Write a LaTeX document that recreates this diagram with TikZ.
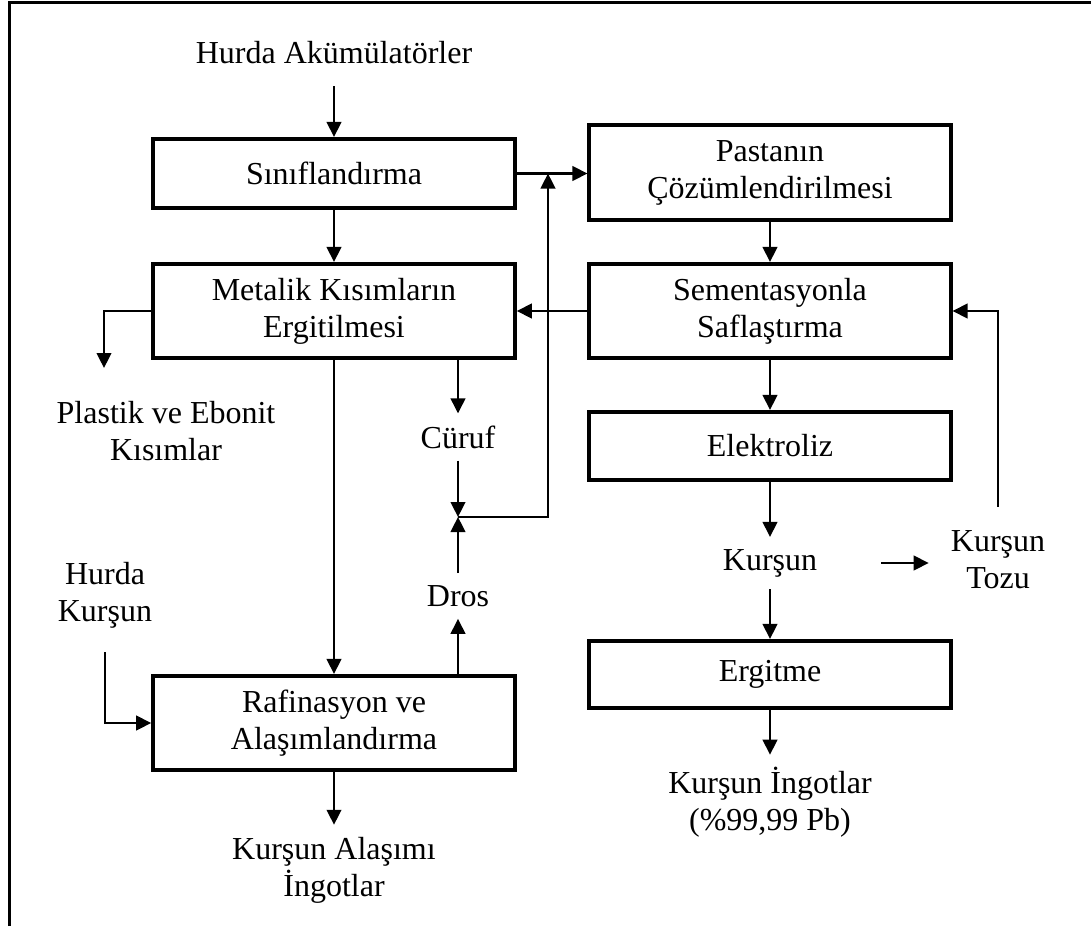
\documentclass[tikz,border=0pt]{standalone}
\usepackage{fontspec}
\setmainfont{Liberation Serif}
\usetikzlibrary{arrows.meta}
\begin{document}
\begin{tikzpicture}[x=1pt,y=-1pt,
  every node/.style={font=\fontsize{32}{37}\selectfont, align=center},
  proc/.style={draw, line width=3.6pt, inner sep=0pt},
  lbl/.style={fill=white, inner xsep=10pt, inner ysep=12pt},
  flow/.style={line width=2.6pt, -{Triangle[length=15pt,width=14.5pt]}}]
\useasboundingbox (0,0) rectangle (1091,926);

% page frame (left and top edges)
\draw[line width=3pt] (9,926) -- (9,2.5) -- (1091,2.5);

% process boxes, left column
\node[proc, minimum width=362pt, minimum height=69.5pt] (sinif) at (334,173.5) {Sınıflandırma};
\node[proc, minimum width=362pt, minimum height=94.5pt] (metal) at (334,311) {Metalik Kısımların\\Ergitilmesi};
\node[proc, minimum width=362pt, minimum height=94.5pt] (raf) at (334,723) {Rafinasyon ve\\Alaşımlandırma};

% process boxes, right column
\node[proc, minimum width=361.5pt, minimum height=95.5pt] (pasta) at (770,172.5) {Pastanın\\Çözümlendirilmesi};
\node[proc, minimum width=361.5pt, minimum height=94.5pt] (sement) at (770,311) {Sementasyonla\\Saflaştırma};
\node[proc, minimum width=361.5pt, minimum height=68.5pt] (elek) at (770,446) {Elektroliz};
\node[proc, minimum width=361.5pt, minimum height=67.5pt] (ergit) at (770,674.5) {Ergitme};

% inputs, products and by-products
\node[lbl] (hakum) at (334,53) {Hurda Akümülatörler};
\node[lbl] (plastik) at (166,431) {Plastik ve Ebonit\\Kısımlar};
\node[lbl] (curuf) at (458,437) {Cüruf};
\node[lbl] (dros) at (458,596) {Dros};
\node[lbl] (hkursun) at (105,595) {Hurda\\Kurşun};
\node[lbl] (kursun) at (770,563) {Kurşun};
\node[lbl] (tozu) at (998,560) {Kurşun\\Tozu};
\node[lbl] (ingot) at (770,802) {Kurşun İngotlar\\(\%99,99 Pb)};
\node[lbl] (alasim) at (334,870) {Kurşun Alaşımı\\İngotlar};

% helper points
\coordinate (J) at (458,517);
\coordinate (up) at (548,173.5);
\coordinate (pdown) at (104,368);

% connectors
\draw[flow, shorten <=10pt] (hakum.south) -- (hakum.south |- sinif.north);
\draw[flow] (sinif.south) -- (metal.north);
\draw[flow] (sinif.east) -- (sinif.east -| pasta.west);
\draw[flow] (metal.west) -| (pdown);
\draw[flow] (metal.south -| J) -- (curuf.north);
\draw[flow] (metal.south) -- (raf.north);
\draw[flow] (sement.west) -- (sement.west -| metal.east);
\draw[flow] (curuf.south) -- (J);
\draw[flow] (dros.north) -- (J);
\draw[flow] (J) -| (up);
\draw[flow] (raf.north -| dros.south) -- (dros.south);
\draw[flow, shorten <=12pt] (hkursun.south) |- (raf.west);
\draw[flow] (raf.south) -- (alasim.north);
\draw[flow] (pasta.south) -- (sement.north);
\draw[flow] (sement.south) -- (elek.north);
\draw[flow] (elek.south) -- (kursun.north);
\draw[flow] (kursun.south) -- (ergit.north);
\draw[flow, shorten <=54pt, shorten >=12pt] (kursun.east) -- (kursun.east -| tozu.west);
\draw[flow, shorten <=12pt] (tozu.north) |- (sement.east);
\draw[flow] (ergit.south) -- (ingot.north);
\end{tikzpicture}
\end{document}
